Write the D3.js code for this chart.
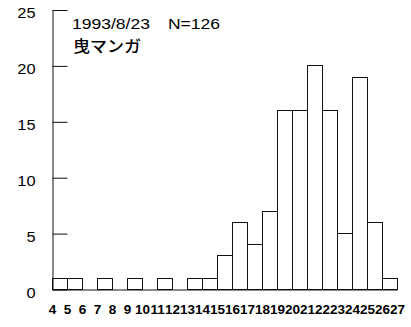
<!DOCTYPE html>
<html>
<head>
<meta charset="utf-8">
<script src="https://cdn.jsdelivr.net/npm/d3@7"></script>
<style>
  body { margin: 0; background: #fff; }
  text { font-family: "Liberation Sans", Arial, sans-serif; fill: #000; }
</style>
</head>
<body>
<div id="chart"></div>
<script>
// 데이터
const binStarts = [4, 5, 6, 7, 8, 9, 10, 11, 12, 13, 14, 15, 16, 17, 18, 19, 20, 21, 22, 23, 24, 25, 26];
const counts    = [1, 1, 0, 1, 0, 1, 0, 1, 0, 1, 1, 3, 6, 4, 7, 16, 16, 20, 16, 5, 19, 6, 1];
const xTicks = [4, 5, 6, 7, 8, 9, 10, 11, 12, 13, 14, 15, 16, 17, 18, 19, 20, 21, 22, 23, 24, 25, 26, 27];
const yTicks = [0, 5, 10, 15, 20, 25];
const dateLabel = "1993/8/23";
const nLabel = "N=126";
const subLabel = "曳マンガ";

const width = 411;
const height = 327;

const svg = d3.select("#chart")
    .append("svg")
    .attr("width", width)
    .attr("height", height);

// 스케일
const xScale = d3.scaleLinear()
    .domain([4, 27])
    .range([52, 397]);

const yScale = d3.scaleLinear()
    .domain([0, 25])
    .range([289, 9.5]);

// 막대
svg.append("g")
    .selectAll("rect")
    .data(binStarts.map((b, i) => ({ start: b, value: counts[i] })).filter(d => d.value > 0))
    .join("rect")
    .attr("x", d => Math.round(xScale(d.start)) + 0.5)
    .attr("y", d => Math.round(yScale(d.value)) + 0.5)
    .attr("width", d => Math.round(xScale(d.start + 1)) - Math.round(xScale(d.start)))
    .attr("height", d => Math.round(yScale(0)) - Math.round(yScale(d.value)))
    .attr("fill", "#fff")
    .attr("stroke", "#111")
    .attr("stroke-width", 1);

// Y 축
const yAxis = svg.append("g")
    .attr("transform", "translate(52.5,0.5)")
    .call(d3.axisLeft(yScale).tickValues(yTicks).tickSizeInner(-15).tickSizeOuter(0).tickPadding(17));
yAxis.select(".domain").attr("stroke", "#111");
yAxis.selectAll(".tick line").attr("stroke", "#111");
yAxis.selectAll(".tick text")
    .style("font-size", "14px")
    .style("font-family", "'Liberation Sans', Arial, sans-serif")
    .attr("dy", "0.55em")
    .each(function() {
        const w = this.getComputedTextLength();
        d3.select(this).attr("textLength", w * 1.17).attr("lengthAdjust", "spacingAndGlyphs");
    });

// X 축
const xAxis = svg.append("g")
    .attr("transform", "translate(0,289.5)")
    .call(d3.axisBottom(xScale).tickValues(xTicks).tickSize(0).tickPadding(16));
xAxis.select(".domain").attr("stroke", "#111");
xAxis.selectAll(".tick text")
    .style("font-size", "12.5px")
    .style("font-weight", "bold")
    .style("font-family", "'Liberation Sans', Arial, sans-serif")
    .each(function() {
        const w = this.getComputedTextLength();
        d3.select(this).attr("textLength", w * 1.08).attr("lengthAdjust", "spacingAndGlyphs");
    });

// 제목
svg.append("text")
    .attr("x", 72)
    .attr("y", 29)
    .style("font-size", "14px")
    .attr("textLength", 78)
    .attr("lengthAdjust", "spacingAndGlyphs")
    .text(dateLabel);

svg.append("text")
    .attr("x", 168)
    .attr("y", 29)
    .style("font-size", "14px")
    .attr("textLength", 52)
    .attr("lengthAdjust", "spacingAndGlyphs")
    .text(nLabel);

svg.append("text")
    .attr("x", 73)
    .attr("y", 52)
    .style("font-size", "16px")
    .style("font-family", "'Noto Sans CJK JP', sans-serif")
    .style("font-weight", "500")
    .attr("textLength", 68)
    .attr("lengthAdjust", "spacingAndGlyphs")
    .text(subLabel);
</script>
</body>
</html>
